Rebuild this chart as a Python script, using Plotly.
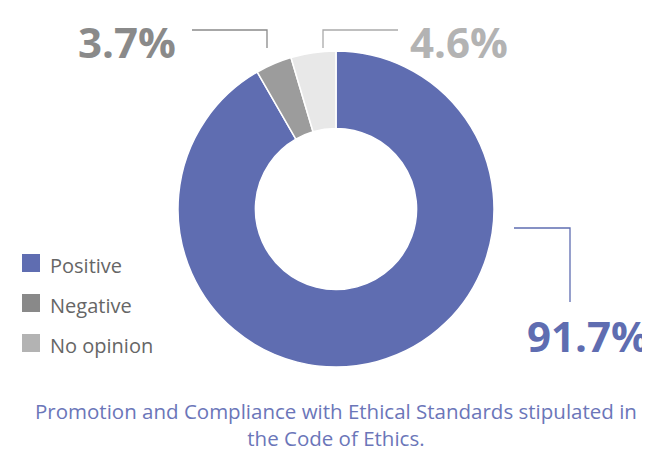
import plotly.graph_objects as go

# ---- data ----
categories = ["Positive", "Negative", "No opinion"]
values = [91.7, 3.7, 4.6]
slice_colors = ["#5f6db1", "#9c9c9c", "#e8e8e8"]
legend_colors = ["#5f6db1", "#898989", "#b3b3b3"]
label_colors = ["#5f6db1", "#8a8a8a", "#b3b3b3"]
title_text = "Promotion and Compliance with Ethical Standards stipulated in<br>the Code of Ethics."

# page body has an 8px margin; the figure fills the rest of the window
OFF = 8
W, H = 650 - OFF, 452 - OFF
def px(x):
    return (x - OFF) / W
def py(y):
    return 1 - (y - OFF) / H

cx, cy, R = 336, 209, 158

fig = go.Figure()
fig.add_trace(go.Pie(
    labels=categories,
    values=values,
    hole=0.51,
    sort=False,
    direction="clockwise",
    rotation=0,
    marker=dict(colors=slice_colors, line=dict(color="white", width=1.5)),
    textinfo="none",
    hoverinfo="label+percent",
    showlegend=False,
    domain=dict(x=[px(cx - R), px(cx + R)], y=[py(cy + R), py(cy - R)]),
))

# value labels with leader lines (layout positions)
label_pos = [(588, 335), (127, 41), (459, 41)]
leader_lines = [
    [(514, 228), (570, 228), (570, 302)],
    [(192, 30), (267, 30), (267, 48)],
    [(323, 48), (323, 30), (398, 30)],
]
line_colors = ["#5f6db1", "#8a8a8a", "#aaaaaa"]

annotations = []
shapes = []
for i, v in enumerate(values):
    lx, ly = label_pos[i]
    annotations.append(dict(
        x=px(lx), y=py(ly), xref="paper", yref="paper",
        text=f"<b>{v}%</b>", showarrow=False,
        xanchor="center", yanchor="middle",
        font=dict(family="Open Sans", size=42, color=label_colors[i]),
    ))
    pts = leader_lines[i]
    path = "M " + " L ".join(f"{px(x)} {py(y)}" for x, y in pts)
    shapes.append(dict(type="path", xref="paper", yref="paper", path=path,
                       line=dict(color=line_colors[i], width=1.3)))

# custom legend
leg_x, leg_y0, leg_dy, sq = 22, 265, 40, 18
for i, name in enumerate(categories):
    y = leg_y0 + i * leg_dy
    shapes.append(dict(type="rect", xref="paper", yref="paper",
                       x0=px(leg_x), x1=px(leg_x + sq),
                       y0=py(y - sq / 2 - 2), y1=py(y + sq / 2 - 2),
                       fillcolor=legend_colors[i], line=dict(width=0)))
    annotations.append(dict(
        x=px(48), y=py(y), xref="paper", yref="paper",
        text=name, showarrow=False, xanchor="left", yanchor="middle",
        font=dict(family="Open Sans", size=20, color="#666666"),
    ))

# caption
annotations.append(dict(
    x=px(336), y=py(424), xref="paper", yref="paper",
    text=title_text, showarrow=False, xanchor="center", yanchor="middle",
    font=dict(family="Open Sans", size=20.5, color="#6b76b9"),
))

fig.update_layout(
    width=W, height=H,
    margin=dict(l=0, r=0, t=0, b=0),
    paper_bgcolor="white", plot_bgcolor="white",
    annotations=annotations, shapes=shapes,
)

fig.write_html("out.html")
